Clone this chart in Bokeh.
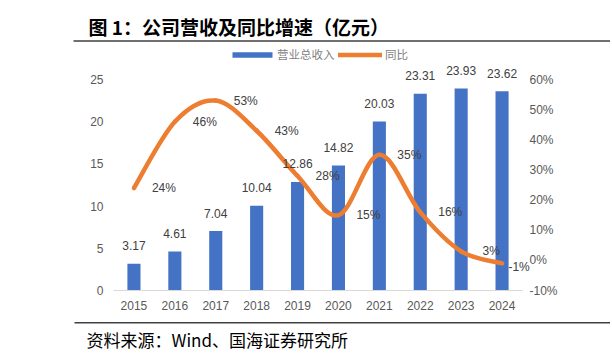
from bokeh.plotting import figure
from bokeh.models import (Range1d, LinearAxis, FixedTicker, Label, BoxAnnotation,
                          Legend, LegendItem)
from bokeh.embed import file_html
from bokeh.resources import INLINE
from bokeh.core.properties import value

# ---- data ----
years = ["2015", "2016", "2017", "2018", "2019", "2020", "2021", "2022", "2023", "2024"]
revenue = [3.17, 4.61, 7.04, 10.04, 12.86, 14.82, 20.03, 23.31, 23.93, 23.62]
yoy = [24, 46, 53, 43, 28, 15, 35, 16, 3, -1]
rev_ticks = [0, 5, 10, 15, 20, 25]
pct_ticks = [-10, 0, 10, 20, 30, 40, 50, 60]
pct_tick_labels = ["-10%", "0%", "10%", "20%", "30%", "40%", "50%", "60%"]
title_text = "图 1：公司营收及同比增速（亿元）"
source_text = "资料来源：Wind、国海证券研究所"
series_names = ["营业总收入", "同比"]

xs = list(range(len(years)))
rev_labels = ["%.2f" % v for v in revenue]
yoy_labels = ["%d%%" % v for v in yoy]

BLUE = "#4472C4"
ORANGE = "#ED7D31"
GREY = "#595959"

# ---- layout (pixels) ----
W, H = 610, 356
PL, PR, PT, PB = 113, 522, 79, 290   # plot area in canvas pixels

ux = (PR - PL) / len(years)
x_lo = -0.5 - PL / ux
x_hi = len(years) - 0.5 + (W - PR) / ux
uy = (PB - PT) / (rev_ticks[-1] - rev_ticks[0])
y_lo = rev_ticks[0] - (H - PB) / uy
y_hi = rev_ticks[-1] + PT / uy
up = (PB - PT) / (pct_ticks[-1] - pct_ticks[0])
p_lo = pct_ticks[0] - (H - PB) / up
p_hi = pct_ticks[-1] + PT / up

p = figure(width=W, height=H, x_range=Range1d(x_lo, x_hi), y_range=Range1d(y_lo, y_hi),
           output_backend="svg", toolbar_location=None, min_border=0)
p.title.visible = False
p.outline_line_color = None
p.grid.visible = False
p.background_fill_color = "white"
p.border_fill_color = "white"

p.extra_y_ranges = {"pct": Range1d(p_lo, p_hi)}

def style_axis(ax, standoff):
    ax.major_tick_line_color = None
    ax.minor_tick_line_color = None
    ax.major_tick_out = 0
    ax.major_tick_in = 0
    ax.minor_tick_out = 0
    ax.minor_tick_in = 0
    ax.major_label_standoff = standoff
    ax.major_label_text_font = "Liberation Sans"
    ax.major_label_text_font_size = "12px"
    ax.major_label_text_color = GREY

# x axis
xa = p.xaxis[0]
xa.fixed_location = 0
xa.bounds = (-0.5, len(years) - 0.5)
xa.ticker = FixedTicker(ticks=xs)
xa.major_label_overrides = {i: y for i, y in zip(xs, years)}
xa.axis_line_color = "#D9D9D9"
xa.axis_line_width = 1
style_axis(xa, 10)

# left axis
ya = p.yaxis[0]
ya.fixed_location = -0.5
ya.ticker = FixedTicker(ticks=rev_ticks)
ya.axis_line_color = None
style_axis(ya, 10)

# right axis
ra = LinearAxis(y_range_name="pct", ticker=FixedTicker(ticks=pct_ticks),
                major_label_overrides={t: l for t, l in zip(pct_ticks, pct_tick_labels)})
ra.fixed_location = len(years) - 0.5
ra.axis_line_color = None
style_axis(ra, 7)
p.add_layout(ra, "right")

# bars
bars = p.vbar(x=xs, top=revenue, width=0.32, fill_color=BLUE, line_color=None)

# smoothed line (Catmull-Rom style Bezier through the data points)
n = len(yoy)
x0s, y0s, x1s, y1s, cx0s, cy0s, cx1s, cy1s = [], [], [], [], [], [], [], []
for i in range(n - 1):
    px, py = (i - 1, yoy[i - 1]) if i > 0 else (i, yoy[i])
    nx, ny = (i + 2, yoy[i + 2]) if i + 2 < n else (i + 1, yoy[i + 1])
    x0s.append(xs[i]); y0s.append(yoy[i])
    x1s.append(xs[i + 1]); y1s.append(yoy[i + 1])
    cx0s.append(xs[i] + (xs[i + 1] - px) / 6.0)
    cy0s.append(yoy[i] + (yoy[i + 1] - py) / 6.0)
    cx1s.append(xs[i + 1] - (nx - xs[i]) / 6.0)
    cy1s.append(yoy[i + 1] - (ny - yoy[i]) / 6.0)
curve = p.bezier(x0=x0s, y0=y0s, x1=x1s, y1=y1s, cx0=cx0s, cy0=cy0s, cx1=cx1s, cy1=cy1s,
                 line_color=ORANGE, line_width=4.5, line_cap="round", y_range_name="pct")

# value labels
p.text(x=xs, y=revenue, text=rev_labels, y_offset=-18, text_align="center",
       text_baseline="middle", text_font=value("Liberation Sans"), text_font_size="12px",
       text_color="#404040")
p.text(x=xs[:-1], y=yoy[:-1], text=yoy_labels[:-1], x_offset=30, text_align="center",
       text_baseline="middle", text_font=value("Liberation Sans"), text_font_size="12px",
       text_color="#404040", y_range_name="pct")
p.text(x=xs[-1:], y=yoy[-1:], text=yoy_labels[-1:], x_offset=17, y_offset=4, text_align="center",
       text_baseline="middle", text_font=value("Liberation Sans"), text_font_size="12px",
       text_color="#404040", y_range_name="pct")

# legends (one per item so each glyph gets its own width)
leg_common = dict(orientation="horizontal", glyph_height=7, label_height=7,
                  spacing=0, padding=0, margin=0, border_line_color=None,
                  background_fill_alpha=0, label_text_font="Noto Sans CJK SC",
                  label_text_font_size="11.5px", label_text_color="#7F7F7F")
p.add_layout(Legend(items=[LegendItem(label=series_names[0], renderers=[bars])],
                    location=(227, H - 62), glyph_width=50, label_standoff=0, **leg_common))
p.add_layout(Legend(items=[LegendItem(label=series_names[1], renderers=[curve])],
                    location=(338, H - 62), glyph_width=44, label_standoff=3, **leg_common))

# title, rules, source
p.add_layout(Label(x=88, y=H - 25.5, x_units="screen", y_units="screen", text=title_text,
                   text_font="Noto Sans CJK SC", text_font_style="bold", text_font_size="19px",
                   text_baseline="middle", text_color="#000000"))
p.add_layout(BoxAnnotation(left=73, right=W, bottom=H - 41.2, top=H - 39.7,
                           left_units="screen", right_units="screen",
                           bottom_units="screen", top_units="screen",
                           fill_color="#404040", fill_alpha=1, line_color=None))
p.add_layout(BoxAnnotation(left=74, right=W, bottom=H - 323, top=H - 321.6,
                           left_units="screen", right_units="screen",
                           bottom_units="screen", top_units="screen",
                           fill_color="#404040", fill_alpha=1, line_color=None))
p.add_layout(Label(x=86, y=H - 338.5, x_units="screen", y_units="screen", text=source_text,
                   text_font="Noto Sans CJK SC", text_font_size="17px",
                   text_baseline="middle", text_color="#000000"))

open("out.html", "w").write(file_html(p, INLINE))
